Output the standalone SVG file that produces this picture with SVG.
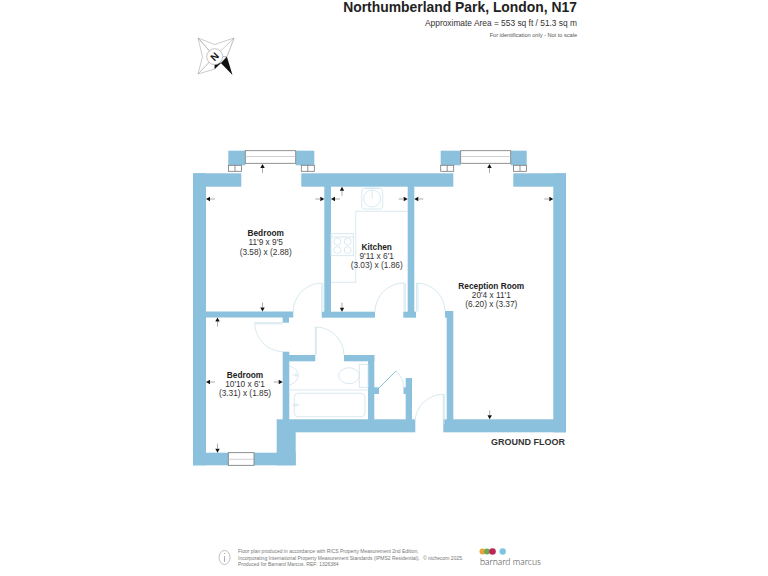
<svg xmlns="http://www.w3.org/2000/svg" xmlns:xlink="http://www.w3.org/1999/xlink" width="768" height="576" viewBox="0 0 768 576">
<style>
text{font-family:"Liberation Sans",Arial,sans-serif;fill:#222}
.w{fill:#8bc1dc}
.f{fill:none;stroke:#cfe3ec;stroke-width:.8}
.d{fill:none;stroke:#c5dfea;stroke-width:.7}
.win{fill:#fff;stroke:#777;stroke-width:.8}
.ml{stroke:#bbb;stroke-width:.7}
.b{font-size:8.3px;font-weight:bold;text-anchor:middle}
.r{font-size:8.3px;text-anchor:middle;fill:#333}
.ft{font-size:5px;fill:#777}
.cp{fill:#fff;stroke:#aaa;stroke-width:.6}
</style>
<defs>
<g id="a"><path d="M0 0L-2.2 4H2.2Z" fill="#111"/><path d="M0 4V9" stroke="#888" stroke-width=".7"/></g>
<g id="bx"><rect x="0" y="0" width="13" height="6" class="win"/><path d="M6.5 0V6" stroke="#777" stroke-width=".8"/></g>
</defs>
<g id="header">
<text x="577" y="11.500" text-anchor="end" font-size="13.900" font-weight="bold" style="fill:#222">Northumberland Park, London, N17</text>
<text x="577" y="26" text-anchor="end" font-size="8.400" style="fill:#333">Approximate Area = 553 sq ft / 51.3 sq m</text>
<text x="577" y="36.500" text-anchor="end" font-size="5.600" style="fill:#555">For identification only - Not to scale</text>
</g>
<g id="compass">
<path class="cp" d="M214.700 56.700L198 38L214.700 44.500L234 38L226.900 56.700L214.700 56.700ZM214.700 56.700L198 74L202.500 56.700L198 38Z"/>
<path class="cp" d="M214.700 56.700L234 38L226.900 56.700ZM214.700 56.700L226.900 56.700L214.700 69Z"/>
<path class="cp" d="M214.700 56.700L198 74L214.700 69Z"/>
<path d="M214.700 56.700L232.500 75L226.900 56.700L221 63L214.700 69Z" fill="#111"/>
<circle cx="214.700" cy="56.700" r="8" fill="#fff" stroke="#aaa" stroke-width=".7"/>
<text transform="translate(214.700 56.700) rotate(135)" y="3.500" text-anchor="middle" font-size="10" font-weight="bold" style="fill:#111">N</text>
</g>
<g id="walls">
<rect class="w" x="193" y="173.300" width="13" height="292"/>
<rect class="w" x="193" y="173.300" width="48.300" height="13.400"/>
<rect class="w" x="228.300" y="150.700" width="17" height="14.600"/>
<rect class="w" x="295.700" y="150.700" width="18.600" height="14.600"/>
<rect class="w" x="301.300" y="173.300" width="152" height="13.400"/>
<rect class="w" x="440.700" y="150.700" width="20" height="14.600"/>
<rect class="w" x="510.700" y="150.700" width="16" height="14.600"/>
<rect class="w" x="513.300" y="173.300" width="52.700" height="13.400"/>
<rect class="w" x="553.300" y="173.300" width="12.700" height="259"/>
<rect class="w" x="443.300" y="419.300" width="122.700" height="13"/>
<rect class="w" x="324.300" y="186" width="6.700" height="126"/>
<rect class="w" x="407.700" y="186" width="6.600" height="126"/>
<rect class="w" x="321.700" y="311.700" width="53.300" height="6"/>
<rect class="w" x="403.300" y="311.700" width="12.700" height="6"/>
<rect class="w" x="206" y="311.500" width="87.300" height="6"/>
<rect class="w" x="282.700" y="317" width="6.300" height="5.700"/>
<rect class="w" x="282.700" y="351.700" width="6.600" height="70"/>
<rect class="w" x="276.700" y="419.300" width="19" height="46"/>
<rect class="w" x="193" y="452.700" width="102.700" height="12.600"/>
<rect class="w" x="295" y="419.300" width="120.300" height="13"/>
<rect class="w" x="289" y="355" width="26.300" height="6.300"/>
<rect class="w" x="344" y="355" width="30.300" height="6.300"/>
<rect class="w" x="368" y="355" width="6.300" height="65"/>
<rect class="w" x="374" y="387.300" width="5" height="6.700"/>
<rect class="w" x="405.700" y="378" width="6.300" height="42"/>
<rect class="w" x="403.500" y="387.300" width="3" height="6.700"/>
<rect class="w" x="446.700" y="311" width="6.600" height="109"/>
<rect class="w" x="445" y="311" width="3" height="6.700"/>
</g>
<g id="windows">
<rect class="win" x="245.300" y="150.700" width="50.400" height="12.600"/><path class="ml" d="M245.300 156.500H295.700"/>
<rect class="win" x="460.700" y="150.700" width="50" height="12.600"/><path class="ml" d="M460.700 156.500H510.700"/>
<rect class="win" x="228.300" y="452.700" width="25.700" height="12.600"/><path class="ml" d="M228.300 459.300H254"/>
<use xlink:href="#bx" href="#bx" x="228.500" y="165.300"/>
<use xlink:href="#bx" href="#bx" x="301.300" y="165.300"/>
<use xlink:href="#bx" href="#bx" x="440.700" y="165.300"/>
<use xlink:href="#bx" href="#bx" x="513.500" y="165.300"/>
</g>
<g id="doors">
<path class="d" d="M321.700 311.700V283M323 311.700V283M321.700 283A28.700 28.700 0 0 0 293.300 311.700"/>
<path class="d" d="M404 311.700V283M405.300 311.700V283M404 283A29 29 0 0 0 375 311.700"/>
<path class="d" d="M416.500 311.700V283M418 311.700V283M416.500 283A28.500 28.500 0 0 1 445 311"/>
<path class="d" d="M254.700 322.700H282.700M254.700 323.800H282.700M254.700 322.700A29 29 0 0 0 282.700 351.700"/>
<path class="d" d="M315.300 355V327M316.300 355V327M316 327A28.500 28.500 0 0 1 344 355"/>
<path class="d" d="M443.300 424V394.300M444.300 424V394.300M443.300 394.300A28.500 28.500 0 0 0 415 421"/>
<path d="M379 388L396 371" fill="none" stroke="#8bc1dc" stroke-width="1"/>
<path class="d" d="M396 371A22 22 0 0 1 403.500 387"/>
</g>
<g id="fixtures">
<rect class="f" x="361.700" y="188.300" width="21" height="20.700" rx="3"/>
<circle class="f" cx="372.200" cy="198.500" r="8.500"/>
<path class="f" d="M372.200 198.500V190M365 188.300H380"/>
<path class="f" d="M407.700 211.300H355.700V282.300H331"/>
<rect class="f" x="331" y="233.700" width="22.300" height="22"/>
<path class="f" d="M331 237H353.300"/>
<circle class="f" cx="337.300" cy="241.500" r="3.500"/><circle class="f" cx="347.700" cy="241.500" r="3.500"/>
<circle class="f" cx="337.300" cy="250" r="3.500"/><circle class="f" cx="347.700" cy="250" r="3.500"/>
<path class="f" d="M289.300 366A13 10 0 0 1 289.300 385"/>
<path class="f" d="M292 375H298M296 373V377"/>
<rect class="f" x="359.300" y="364.300" width="8.700" height="23"/>
<ellipse class="f" cx="349" cy="375.700" rx="10.300" ry="8"/>
<path class="f" d="M289.300 390H368"/>
<rect class="f" x="294.300" y="393.300" width="70.700" height="23.400" rx="4"/>
<path class="f" d="M292 405H300M296 403V407"/>
</g>
<g id="dims">
<use xlink:href="#a" href="#a" transform="translate(206 199) rotate(-90)"/>
<use xlink:href="#a" href="#a" transform="translate(324.300 199) rotate(90)"/>
<use xlink:href="#a" href="#a" transform="translate(262.500 164)"/>
<use xlink:href="#a" href="#a" transform="translate(262.500 311.500) rotate(180)"/>
<use xlink:href="#a" href="#a" transform="translate(331 199) rotate(-90)"/>
<use xlink:href="#a" href="#a" transform="translate(407.700 199) rotate(90)"/>
<use xlink:href="#a" href="#a" transform="translate(342 186.700)"/>
<use xlink:href="#a" href="#a" transform="translate(342 311.700) rotate(180)"/>
<use xlink:href="#a" href="#a" transform="translate(414.300 199) rotate(-90)"/>
<use xlink:href="#a" href="#a" transform="translate(553.300 199) rotate(90)"/>
<use xlink:href="#a" href="#a" transform="translate(489.500 164)"/>
<use xlink:href="#a" href="#a" transform="translate(489.700 419.300) rotate(180)"/>
<use xlink:href="#a" href="#a" transform="translate(217.500 317.500)"/>
<use xlink:href="#a" href="#a" transform="translate(206 382) rotate(-90)"/>
<use xlink:href="#a" href="#a" transform="translate(282.700 382) rotate(90)"/>
<use xlink:href="#a" href="#a" transform="translate(217.500 452.700) rotate(180)"/>
</g>
<g id="bedroom1"><text class="b" x="265.700" y="236">Bedroom</text><text class="r" x="265.700" y="245">11'9 x 9'5</text><text class="r" x="265.700" y="254.500">(3.58) x (2.88)</text></g>
<g id="kitchen"><text class="b" x="376.700" y="249.500">Kitchen</text><text class="r" x="376.700" y="258.500">9'11 x 6'1</text><text class="r" x="376.700" y="268">(3.03) x (1.86)</text></g>
<g id="reception"><text class="b" x="491.300" y="288.700">Reception Room</text><text class="r" x="491.300" y="298">20'4 x 11'1</text><text class="r" x="491.300" y="307.300">(6.20) x (3.37)</text></g>
<g id="bedroom2"><text class="b" x="245" y="377.500">Bedroom</text><text class="r" x="245" y="386.500">10'10 x 6'1</text><text class="r" x="245" y="396">(3.31) x (1.85)</text></g>
<text x="565" y="445" text-anchor="end" font-size="9" font-weight="bold" style="fill:#333">GROUND FLOOR</text>
<g id="footer">
<ellipse cx="224.500" cy="557.500" rx="5.500" ry="7" fill="none" stroke="#999" stroke-width=".6"/>
<path d="M224.500 556V562M224.500 553V554" stroke="#999" stroke-width=".8"/>
<text class="ft" x="238" y="553">Floor plan produced in accordance with RICS Property Measurement 2nd Edition,</text>
<text class="ft" x="238" y="559.700">Incorporating International Property Measurement Standards (IPMS2 Residential).</text>
<text class="ft" x="423" y="559.700">© nichecom 2025.</text>
<text class="ft" x="238" y="566">Produced for Barnard Marcus.   REF: 1326384</text>
<circle cx="482.500" cy="551.500" r="3" fill="#e8a33d"/><circle cx="487" cy="551.500" r="3" fill="#6fa84f"/><circle cx="492.500" cy="551.500" r="3.300" fill="#b8265a"/><circle cx="502.700" cy="551.500" r="3.200" fill="#7fc4e0"/>
<text x="480" y="565" font-size="9.200" style="font-family:Lato,'Open Sans',sans-serif;font-weight:300;fill:#333">barnard marcus</text>
</g>
</svg>
